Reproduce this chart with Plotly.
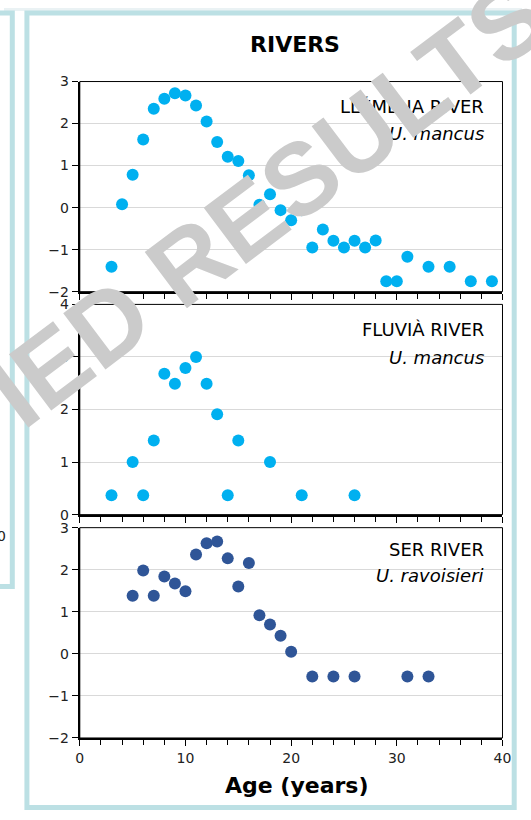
import plotly.graph_objects as go

# ---- data -------------------------------------------------------------
LLEMENA_AGE = [3, 4, 5, 6, 7, 8, 9, 10, 11, 12, 13, 14, 15, 16, 17, 18, 19, 20,
               21, 22, 23, 24, 25, 26, 27, 28, 29, 30, 31, 33, 35, 37, 39]
LLEMENA_VAL = [-1.41, 0.08, 0.78, 1.62, 2.35, 2.59, 2.72, 2.67, 2.43, 2.05,
               1.56, 1.21, 1.11, 0.77, 0.07, 0.32, -0.06, -0.30, -0.06, -0.95,
               -0.52, -0.79, -0.95, -0.79, -0.95, -0.78, -1.75, -1.75, -1.17,
               -1.41, -1.41, -1.75, -1.75]

FLUVIA_AGE = [3, 5, 6, 7, 8, 9, 10, 11, 12, 13, 14, 15, 18, 21, 26]
FLUVIA_VAL = [0.37, 1.0, 0.37, 1.41, 2.68, 2.49, 2.79, 3.0, 2.49, 1.91,
              0.37, 1.41, 1.0, 0.37, 0.37]

SER_AGE = [5, 6, 7, 8, 9, 10, 11, 12, 13, 14, 15, 16, 17, 18, 19, 20,
           22, 24, 26, 31, 33]
SER_VAL = [1.38, 1.98, 1.38, 1.84, 1.67, 1.49, 2.36, 2.63, 2.67, 2.27, 1.60,
           2.16, 0.92, 0.70, 0.43, 0.05, -0.54, -0.54, -0.54, -0.54, -0.54]

PANEL_RIVERS = ["LLÉMENA RIVER", "FLUVIÀ RIVER", "SER RIVER"]
PANEL_SPECIES = ["U. mancus", "U. mancus", "U. ravoisieri"]
Y_RANGES = [[-2, 3], [0, 4], [-2, 3]]
X_TICKS = [0, 10, 20, 30, 40]

# ---- geometry helpers (pixel -> paper) ---------------------------------
W, H = 531, 820


def fx(p):
    return p / W


def fy(p):
    return 1 - p / H


LIGHT_BLUE = "#00B0F0"
DARK_BLUE = "#2F5597"
FRAME = "#BCE0E4"
GRID = "#D9D9D9"
TEXT_FONT = "DejaVu Sans"

x_dom = [fx(77.7), fx(511.0)]
panel_px = [(75.0, 289.3), (302.3, 516.7), (530.0, 744.5)]

fig = go.Figure()

series = [
    (LLEMENA_AGE, LLEMENA_VAL, LIGHT_BLUE),
    (FLUVIA_AGE, FLUVIA_VAL, LIGHT_BLUE),
    (SER_AGE, SER_VAL, DARK_BLUE),
]

layout_axes = {}
shapes = []
annotations = []

for i, ((ages, vals, col), (top, bot)) in enumerate(zip(series, panel_px)):
    n = "" if i == 0 else str(i + 1)
    fig.add_trace(go.Scatter(
        x=ages, y=vals, mode="markers",
        marker=dict(color=col, size=12, line=dict(width=0)),
        xaxis="x" + n, yaxis="y" + n, showlegend=False,
    ))
    last = i == 2
    layout_axes["xaxis" + n] = dict(
        domain=x_dom, anchor="y" + n, range=[0, 40],
        tickvals=X_TICKS, showticklabels=last,
        showgrid=False, zeroline=False,
        showline=True, linecolor="black", linewidth=2,
        ticks="outside", ticklen=6, tickwidth=1, tickcolor="black",
        minor=dict(dtick=2, tick0=0, ticks="outside", ticklen=5,
                   tickwidth=1, tickcolor="black", showgrid=False),
        tickfont=dict(family=TEXT_FONT, size=14, color="#222"),
    )
    layout_axes["yaxis" + n] = dict(
        domain=[fy(bot), fy(top)], anchor="x" + n, range=Y_RANGES[i],
        dtick=1, tick0=0,
        showgrid=True, gridcolor=GRID, gridwidth=1, zeroline=False,
        showline=True, linecolor="black", linewidth=2,
        ticks="outside", ticklen=6, tickwidth=1, tickcolor="black",
        tickfont=dict(family=TEXT_FONT, size=14, color="#222"),
    )
    # thin box around each plot area
    shapes.append(dict(type="rect", xref="x" + n + " domain",
                       yref="y" + n + " domain", x0=0, x1=1, y0=0, y1=1,
                       line=dict(color="black", width=1), layer="above"))

# white boxes behind the river labels (hide the gridlines)
label_boxes = [(322, 84, 505, 146), (340, 312, 501, 372), (360, 537, 505, 597)]
label_rows = [(100, 128), (328, 356), (552, 579)]
for i, (x0, y0, x1, y1) in enumerate(label_boxes):
    shapes.append(dict(type="rect", xref="paper", yref="paper",
                       x0=fx(x0), x1=fx(x1), y0=fy(y1), y1=fy(y0),
                       fillcolor="white", line=dict(width=0),
                       layer="between"))
    r1, r2 = label_rows[i]
    annotations.append(dict(
        text=PANEL_RIVERS[i], xref="paper", yref="paper",
        x=fx(494), y=fy(r1), xanchor="right", yanchor="middle",
        showarrow=False, font=dict(family=TEXT_FONT, size=18, color="black")))
    annotations.append(dict(
        text="<i>" + PANEL_SPECIES[i] + "</i>", xref="paper", yref="paper",
        x=fx(494), y=fy(r2), xanchor="right", yanchor="middle",
        showarrow=False, font=dict(family=TEXT_FONT, size=18, color="black")))

# outer frames
shapes.append(dict(type="rect", xref="paper", yref="paper",
                   x0=0, x1=1, y0=fy(3), y1=1,
                   fillcolor="#EAF2F4", line=dict(width=0), layer="above"))
shapes.append(dict(type="rect", xref="paper", yref="paper",
                   x0=fx(23.5), x1=fx(523), y0=fy(815.5), y1=fy(5),
                   line=dict(color=FRAME, width=5), layer="above"))
shapes.append(dict(type="rect", xref="paper", yref="paper",
                   x0=fx(-20), x1=fx(8.5), y0=fy(590), y1=fy(5),
                   line=dict(color=FRAME, width=5), layer="above"))

# chart title and x-axis title
annotations.append(dict(
    text="<b>RIVERS</b>", xref="paper", yref="paper",
    x=fx(298), y=fy(37), xanchor="center", yanchor="middle",
    showarrow=False, font=dict(family=TEXT_FONT, size=22, color="black")))
annotations.append(dict(
    text="<b>Age (years)</b>", xref="paper", yref="paper",
    x=fx(300), y=fy(793), xanchor="center", yanchor="middle",
    showarrow=False, font=dict(family=TEXT_FONT, size=22, color="black")))

# tick label of the neighbouring panel, cut by the page edge
annotations.append(dict(
    text="0", xref="paper", yref="paper", x=fx(4), y=fy(538),
    xanchor="right", yanchor="middle", showarrow=False,
    font=dict(family=TEXT_FONT, size=14, color="#222")))

# diagonal watermark on top of everything
annotations.append(dict(
    text="<b>IED RESULTS</b>", xref="paper", yref="paper",
    x=fx(271), y=fy(199), xanchor="center", yanchor="middle",
    textangle=-37, showarrow=False,
    font=dict(family="Liberation Sans", size=102, color="#CBCBCB")))

fig.update_layout(
    width=W, height=H,
    margin=dict(l=0, r=0, t=0, b=0),
    paper_bgcolor="white", plot_bgcolor="white",
    shapes=shapes, annotations=annotations,
    **layout_axes,
)

fig.write_html("out.html")
